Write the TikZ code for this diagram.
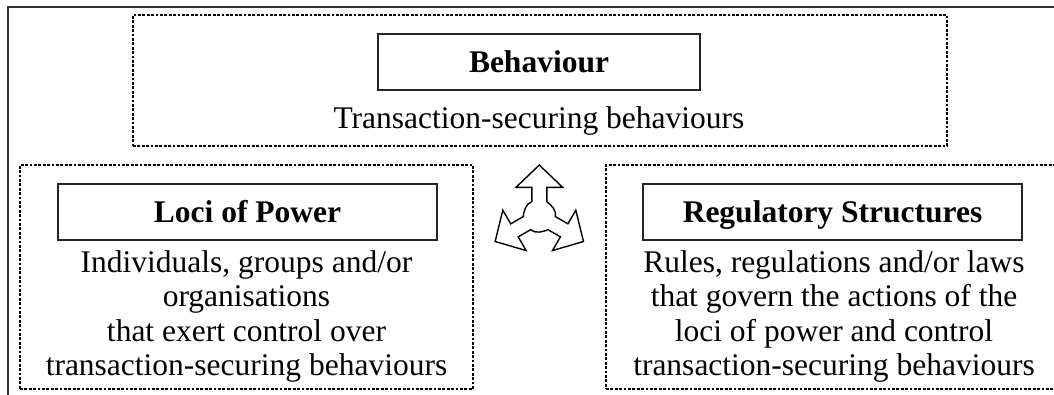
\documentclass[tikz,border=0pt]{standalone}
\usepackage{fontspec}
\setmainfont{Liberation Serif}
\newcommand\bigtxt{\fontsize{31.5}{34.4}\selectfont}
\tikzset{
  frameline/.style={draw=black!80, line width=1.2pt},
  dotbox/.style={draw=black, line width=2.1pt, dash pattern=on 2.8pt off 1.6pt, inner sep=0pt},
  titlebox/.style={draw=black!85, line width=1.1pt, inner sep=0pt, font=\bigtxt\bfseries,
                   text height=22pt, text depth=2pt},
  desc/.style={align=center, inner sep=0pt, font=\bigtxt},
  arrowline/.style={draw=black, line width=1.4pt, fill=white, line join=miter},
}
\begin{document}
\begin{tikzpicture}[x=1pt,y=-1pt]
\useasboundingbox (0,0) rectangle (1054,394);
\clip (0,0) rectangle (1054,394);
% outer frame (runs past the right and bottom edges)
\draw[frameline] (8,7) rectangle (1090,430);
% group boxes
\node[dotbox, minimum width=814pt, minimum height=131pt] (topgrp) at (540,80.5) {};
\node[dotbox, minimum width=453pt, minimum height=224pt] (leftgrp) at (246.5,277) {};
\node[dotbox, minimum width=454pt, minimum height=224pt] (rightgrp) at (833,277) {};
% title boxes
\node[titlebox, minimum width=322pt, minimum height=56pt] (beh) at (539,62) {Behaviour};
\node[titlebox, minimum width=379pt, minimum height=56pt] (loci) at (247.5,212) {Loci of Power};
\node[titlebox, minimum width=379pt, minimum height=56pt] (reg) at (832.5,212) {Regulatory Structures};
% descriptions
\node[desc, anchor=base] (behtxt) at (539,128) {Transaction-securing behaviours};
\node[desc, anchor=north] (locitxt) at (246.5,247) {\rule{0pt}{25pt}Individuals, groups and/or\\organisations\\that exert control over\\transaction-securing behaviours};
\node[desc, anchor=north] (regtxt) at (834,247) {\rule{0pt}{25pt}Rules, regulations and/or laws\\that govern the actions of the\\loci of power and control\\transaction-securing behaviours};
% three-way arrow
\begin{scope}[shift={(539.3,216)}, y=1pt]
\foreach \a/\n in {0/u,120/l,240/r}{
  \begin{scope}[rotate=\a]
    \coordinate (\n1) at (7.5,14.3);
    \coordinate (\n2) at (7.5,28.7);
    \coordinate (\n3) at (23.3,28.7);
    \coordinate (\n4) at (0,51);
    \coordinate (\n5) at (-23.3,28.7);
    \coordinate (\n6) at (-7.5,28.7);
    \coordinate (\n7) at (-7.5,14.3);
    \coordinate (\n c1) at (-13.8,12.3);
    \coordinate (\n c2) at (-15.6,4.3);
  \end{scope}
}
\end{scope}
\draw[arrowline] (u1) -- (u2) -- (u3) -- (u4) -- (u5) -- (u6) -- (u7)
  .. controls (uc1) and (uc2) .. (l1) -- (l2) -- (l3) -- (l4) -- (l5) -- (l6) -- (l7)
  .. controls (lc1) and (lc2) .. (r1) -- (r2) -- (r3) -- (r4) -- (r5) -- (r6) -- (r7)
  .. controls (rc1) and (rc2) .. (u1) -- cycle;
\end{tikzpicture}
\end{document}
